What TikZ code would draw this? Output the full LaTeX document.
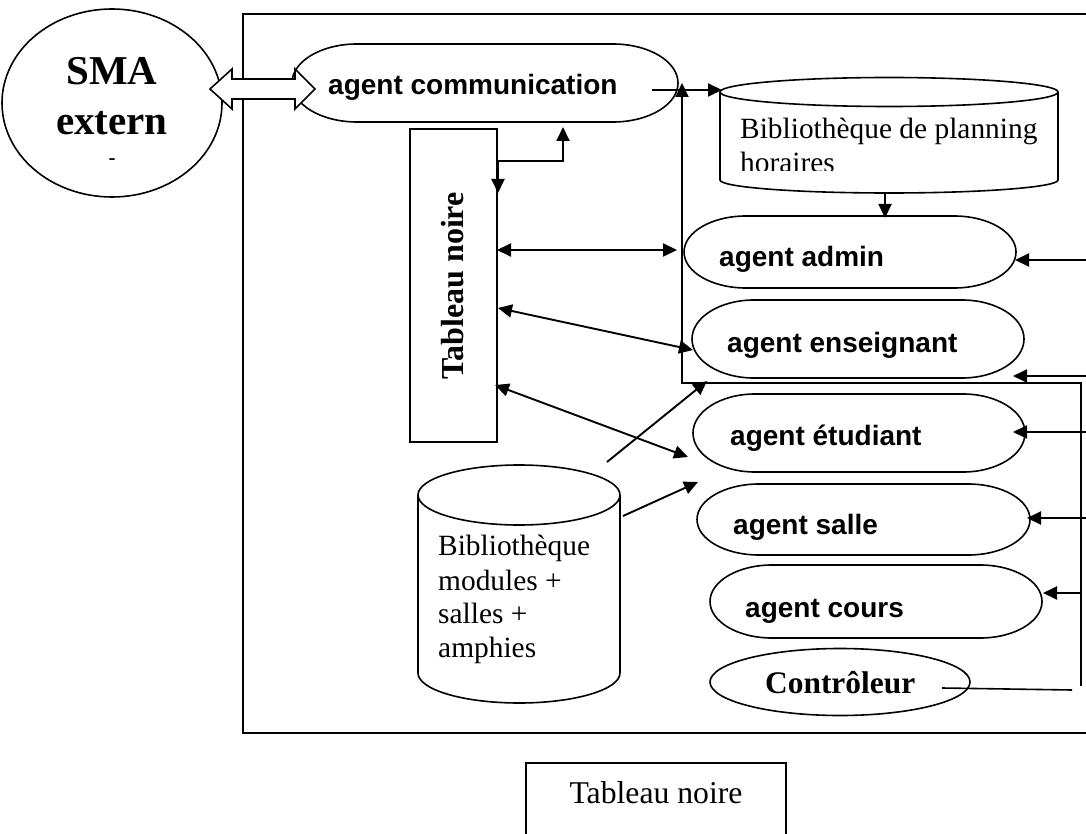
\documentclass[tikz,border=0pt]{standalone}
\usepackage{fontspec}
\setmainfont{Liberation Serif}
\newfontfamily\agentsans{Liberation Sans}
\usetikzlibrary{arrows.meta,shapes.geometric}
\tikzset{
  conn/.style={line width=1.9pt, -{Triangle[length=14pt,width=13pt]}},
  biconn/.style={line width=1.9pt, {Triangle[length=14pt,width=13pt]}-{Triangle[length=14pt,width=13pt]}},
  plainline/.style={line width=1.6pt},
  shapeline/.style={line width=1.6pt},
  framebox/.style={line width=2pt},
  agenttext/.style={font=\agentsans\bfseries\fontsize{28}{32}\selectfont, anchor=base west, inner sep=0},
  libtext/.style={font=\fontsize{29.4}{34}\selectfont, anchor=base west, inner sep=0},
}
\newcommand\stadium[6]{%
  \draw[shapeline] ({#2+#6},#3) -- ({#4-#6},#3)
    arc[start angle=-90,end angle=90,x radius=#6,y radius={(#5-#3)/2}]
    -- ({#2+#6},#5)
    arc[start angle=90,end angle=270,x radius=#6,y radius={(#5-#3)/2}] -- cycle;
  \node[inner sep=0, minimum width={(#4-#2)*1pt}, minimum height={(#5-#3)*1pt}] (#1) at ({(#2+#4)/2},{(#3+#5)/2}) {};
}
\begin{document}
\begin{tikzpicture}[x=1pt,y=-1pt]
\useasboundingbox (0,0) rectangle (1086,834);
% outer frame
\draw[framebox] (1090,14) -- (243,14) -- (243,733) -- (1090,733);
% SMA extern
\node[ellipse, draw, shapeline, minimum width=220pt, minimum height=188pt, inner sep=0] (sma) at (112,103) {};
\node[font=\bfseries\fontsize{41}{46}\selectfont, anchor=base, inner sep=0] (smat1) at (112,85) {SMA};
\node[font=\bfseries\fontsize{41}{46}\selectfont, anchor=base, inner sep=0] (smat2) at (112,135) {extern};
\node[font=\bfseries\fontsize{21}{24}\selectfont, inner sep=0] (smat3) at (112,162) {-};
% stadium agents
\stadium{comm}{292}{44}{678}{122}{65}
\node[agenttext] (tcomm) at (328,95) {agent communication};
\stadium{adm}{684}{216}{1016}{288}{62}
\node[agenttext] (tadm) at (719,266) {agent admin};
\stadium{ens}{692}{300}{1024}{378}{62}
\node[agenttext] (tens) at (727,352) {agent enseignant};
\stadium{etu}{693}{394}{1025}{472}{62}
\node[agenttext] (tetu) at (730,445) {agent étudiant};
\stadium{sal}{697}{484}{1030}{555}{62}
\node[agenttext] (tsal) at (733,534) {agent salle};
\stadium{cou}{710}{565}{1042}{638}{62}
\node[agenttext] (tcou) at (745,617) {agent cours};
% controleur
\node[ellipse, draw, shapeline, minimum width=260pt, minimum height=67pt, inner sep=0] (ctrl) at (840,682) {};
\node[font=\bfseries\fontsize{31.4}{36}\selectfont, anchor=base west, inner sep=0] (tctrl) at (765,693) {Contrôleur};
% library planning (cylinder)
\draw[shapeline] (720,92) -- (720,180) arc[start angle=180,end angle=0,x radius=169,y radius=13] -- (1058,92);
\draw[shapeline] (889,92) ellipse[x radius=169,y radius=14.5];
\node[inner sep=0, minimum width=338pt, minimum height=115pt] (libp) at (889,135) {};
\node[libtext] (tlibp1) at (740,139) {Bibliothèque de planning};
\begin{scope}
  \clip (700,145) rectangle (1060,171);
  \node[libtext] (tlibp2) at (740,172.5) {horaires};
\end{scope}
% library modules (cylinder)
\draw[shapeline] (418,495) -- (418,673) arc[start angle=180,end angle=0,x radius=101,y radius=30] -- (620,495);
\draw[shapeline] (519,495) ellipse[x radius=101,y radius=30];
\node[inner sep=0, minimum width=202pt, minimum height=238pt] (libm) at (519,584) {};
\node[libtext] (tlibm1) at (438,555) {Bibliothèque};
\node[libtext] (tlibm2) at (438,590) {modules +};
\node[libtext] (tlibm3) at (438,623) {salles +};
\node[libtext] (tlibm4) at (438,657) {amphies};
% tableau noire (vertical)
\node[draw, shapeline, inner sep=0, minimum width=87pt, minimum height=313pt] (tab) at (453.5,285.5) {};
\node[font=\bfseries\fontsize{32}{36}\selectfont, anchor=base, rotate=90, inner sep=0] (ttab) at (463,286) {Tableau noire};
% bottom tableau noire
\draw[framebox] (526,840) -- (526,763) -- (786,763) -- (786,840);
\node[font=\fontsize{31.7}{36}\selectfont, anchor=base, inner sep=0] (tbot) at (656,803) {Tableau noire};
% block double arrow SMA <-> communication
\draw[shapeline, fill=white] (210,89) -- (232,69) -- (232,79) -- (295,79) -- (295,69) -- (315,89)
   -- (295,109) -- (295,99) -- (232,99) -- (232,109) -- cycle;
% coordinates
\coordinate (c1) at (652,90);
\coordinate (c2) at (722,90);
\coordinate (up) at (682,83);
\coordinate (corner) at (682,383);
\coordinate (rc) at (1081,383);
\coordinate (rb) at (1081,686);
\coordinate (cl) at (942,688);
\coordinate (cr) at (1072,690);
% comm -> library
\draw[conn] (c1) -- (c2);
% controller loop
\draw[plainline] (cl) -- (cr);
\draw[conn] (rb) -- (rc) -- (corner) -- (up);
% right arrows into agents
\draw[conn] (1090,260) -- (1015,260);
\draw[conn] (1090,376) -- (1013,376);
\draw[conn] (1090,432) -- (1013,432);
\draw[conn] (1090,518) -- (1027,518);
\draw[conn] (1081,593) -- (1043,593);
% library -> admin
\draw[conn] (885,193) -- (885,218);
% tableau <-> communication
\draw[biconn] (498,193) -- (498,161) -- (563,161) -- (563,127);
% tableau <-> agents
\draw[biconn] (497,250) -- (677,250);
\draw[biconn] (498,308) -- (693,350);
\draw[biconn] (495,385) -- (688,457);
% modules -> agents
\draw[conn] (607,462) -- (707,381);
\draw[conn] (623,516) -- (698,482);
\end{tikzpicture}
\end{document}
